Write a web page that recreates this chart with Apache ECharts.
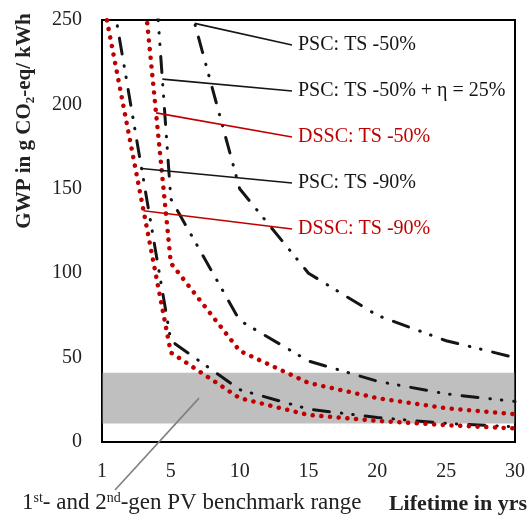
<!DOCTYPE html>
<html>
<head>
<meta charset="utf-8">
<script src="https://cdn.jsdelivr.net/npm/echarts@6/dist/echarts.min.js"></script>
<style>
  html, body { margin: 0; padding: 0; background: #fff; }
  #chart { width: 528px; height: 518px; }
</style>
</head>
<body>
<div id="chart"></div>
<script>
// Lifetime categories (years) and GWP values (g CO2-eq / kWh)
const lifetimes = ['1', '5', '10', '15', '20', '25', '30'];
const pscTs50 = [1500, 300, 150, 100, 75, 60, 50];
const pscTs50Eta25 = [720, 144, 72, 48, 36, 28.5, 24];
const dsscTs50 = [520, 106, 54, 35, 26, 20, 16.5];
const pscTs90 = [300, 60, 31, 19.5, 14.5, 11, 9];
const dsscTs90 = [265, 53, 26, 16, 12.5, 10, 8];

// 1st- and 2nd-generation PV benchmark band
const benchmarkRange = [11, 41];

// Value axis ticks
const yMin = 0, yMax = 250, yStep = 50;

const SERIF = '"Liberation Serif", "DejaVu Serif", serif';
const RED = '#c00000';
const BLACK = '#151515';

const dashDotDot = { width: 3, color: BLACK, type: [16, 12, 0.5, 11, 0.5, 12], cap: 'round' };
const redDots = { width: 4.5, color: RED, type: [0.1, 8.6], cap: 'round' };

// Curve labels with the GWP value where each leader line touches its curve
const annotations = [
  { text: 'PSC: TS -50%', color: BLACK, data: pscTs50, at: 248, labelY: 45 },
  { text: 'PSC: TS -50% + η = 25%', color: BLACK, data: pscTs50Eta25, at: 215, labelY: 91 },
  { text: 'DSSC: TS -50%', color: RED, data: dsscTs50, at: 195, labelY: 137 },
  { text: 'PSC: TS -90%', color: BLACK, data: pscTs90, at: 162, labelY: 183 },
  { text: 'DSSC: TS -90%', color: RED, data: dsscTs90, at: 137, labelY: 229 }
];

const chart = echarts.init(document.getElementById('chart'), null, { renderer: 'canvas' });

function lineSeries(name, data, style) {
  return {
    name, type: 'line', data, symbol: 'none', smooth: false, clip: true,
    lineStyle: style, z: 2, silent: true, animation: false
  };
}

chart.setOption({
  animation: false,
  backgroundColor: '#fff',
  grid: {
    left: 102, right: 9, top: 20, bottom: 76,
    show: true, borderColor: '#000', borderWidth: 2, backgroundColor: 'transparent'
  },
  xAxis: {
    type: 'category', data: lifetimes, boundaryGap: false,
    axisLine: { show: false }, axisTick: { show: false }, splitLine: { show: false },
    axisLabel: { fontFamily: SERIF, fontSize: 20, color: '#222', margin: 20 }
  },
  yAxis: {
    type: 'value', min: yMin, max: yMax, interval: yStep,
    axisLine: { show: false }, axisTick: { show: false }, splitLine: { show: false },
    axisLabel: { fontFamily: SERIF, fontSize: 20, color: '#222', margin: 20 }
  },
  series: [
    lineSeries('PSC: TS -50%', pscTs50, dashDotDot),
    lineSeries('PSC: TS -50% + η = 25%', pscTs50Eta25, dashDotDot),
    lineSeries('DSSC: TS -50%', dsscTs50, redDots),
    lineSeries('PSC: TS -90%', pscTs90, dashDotDot),
    lineSeries('DSSC: TS -90%', dsscTs90, redDots),
    {
      name: 'benchmark', type: 'line', data: [], z: 10, silent: true,
      markArea: {
        silent: true,
        itemStyle: { color: 'rgba(128,128,128,0.5)' },
        data: [[{ yAxis: benchmarkRange[0] }, { yAxis: benchmarkRange[1] }]]
      }
    }
  ]
});

// Pixel point where a curve reaches the given value (between two categories)
function pointOnCurve(data, value) {
  for (let i = 0; i < data.length - 1; i++) {
    if (data[i] >= value && data[i + 1] <= value) {
      const f = (data[i] - value) / (data[i] - data[i + 1]);
      const x0 = chart.convertToPixel({ xAxisIndex: 0 }, i);
      const x1 = chart.convertToPixel({ xAxisIndex: 0 }, i + 1);
      return [x0 + f * (x1 - x0), chart.convertToPixel({ yAxisIndex: 0 }, value)];
    }
  }
  return null;
}

const graphics = [];
const labelX = 298;

annotations.forEach(a => {
  const p = pointOnCurve(a.data, a.at);
  graphics.push({
    type: 'line', silent: true, z: 20,
    shape: { x1: p[0], y1: p[1], x2: labelX - 6, y2: a.labelY },
    style: { stroke: a.color, lineWidth: 1.6 }
  });
  graphics.push({
    type: 'text', x: labelX, y: a.labelY, z: 20, silent: true,
    style: {
      text: a.text, fill: a.color, fontFamily: SERIF, fontSize: 20,
      textAlign: 'left', textVerticalAlign: 'middle', align: 'left', verticalAlign: 'middle'
    }
  });
});

// Leader to the benchmark band label, starting mid-band between 5 and 10 years
{
  const mid = (benchmarkRange[0] + benchmarkRange[1]) / 2;
  const x0 = chart.convertToPixel({ xAxisIndex: 0 }, 1);
  const x1 = chart.convertToPixel({ xAxisIndex: 0 }, 2);
  const sx = x0 + 0.41 * (x1 - x0);
  const sy = chart.convertToPixel({ yAxisIndex: 0 }, mid);
  graphics.push({
    type: 'line', silent: true, z: 20,
    shape: { x1: sx, y1: sy, x2: 115, y2: 490 },
    style: { stroke: '#7f7f7f', lineWidth: 1.6 }
  });
}

graphics.push({
  type: 'text', x: 22, y: 503, z: 20, silent: true,
  style: {
    text: '1{sup|st}- and 2{sup|nd}-gen PV benchmark range',
    fill: '#222', fontFamily: SERIF, fontSize: 23,
    textAlign: 'left', textVerticalAlign: 'middle', align: 'left', verticalAlign: 'middle',
    rich: {
      sup: { fontFamily: SERIF, fontSize: 14, fill: '#222', verticalAlign: 'top', lineHeight: 24 }
    }
  }
});

graphics.push({
  type: 'text', x: 527, y: 504, z: 20, silent: true,
  style: {
    text: 'Lifetime in yrs', fill: '#222', fontFamily: SERIF, fontSize: 22, fontWeight: 'bold',
    textAlign: 'right', textVerticalAlign: 'middle', align: 'right', verticalAlign: 'middle'
  }
});

graphics.push({
  type: 'text', x: 25, y: 121, rotation: Math.PI / 2, z: 20, silent: true,
  style: {
    text: 'GWP in g CO{sub|2}-eq/ kWh',
    fill: '#222', fontFamily: SERIF, fontSize: 21, fontWeight: 'bold',
    textAlign: 'center', textVerticalAlign: 'middle', align: 'center', verticalAlign: 'middle',
    rich: {
      sub: { fontFamily: SERIF, fontSize: 13, fontWeight: 'bold', fill: '#222', verticalAlign: 'bottom', lineHeight: 24 }
    }
  }
});

chart.setOption({ graphic: graphics });
</script>
</body>
</html>
